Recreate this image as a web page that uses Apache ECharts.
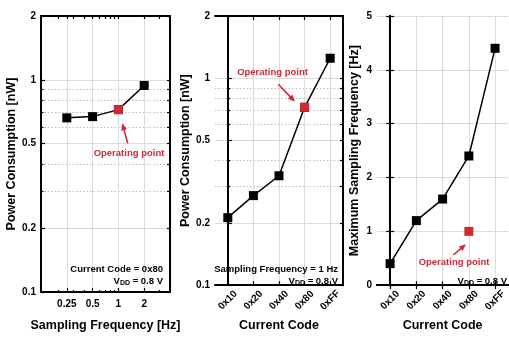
<!DOCTYPE html>
<html><head><meta charset="utf-8">
<script src="https://cdn.jsdelivr.net/npm/echarts@6/dist/echarts.min.js"></script>
<style>html,body{margin:0;padding:0;background:#fff}#c{width:509px;height:337px}</style>
</head><body><div id="c"></div>
<script>
// ---- data ----
const freqX = [0.25, 0.5, 1, 2];
const powerVsFreq = [0.662, 0.671, 0.724, 0.941];
const codes = ['0x10', '0x20', '0x40', '0x80', '0xFF'];
const powerVsCode = [0.212, 0.271, 0.338, 0.724, 1.25];
const maxFreqVsCode = [0.4, 1.2, 1.6, 2.4, 4.4];
const opFreq = 1, opPowerFreq = 0.724;
const opCode = '0x80', opPowerCode = 0.724, opMaxFreq = 1.0;
const xLogTicks = [0.25, 0.5, 1, 2];
const xLogMinor = [0.2, 0.3, 0.4, 0.6, 0.7, 0.8, 0.9, 3];
const yLogTicks = [0.1, 0.2, 0.5, 1, 2];
const yLogMinor = [0.3, 0.4, 0.6, 0.7, 0.8, 0.9];
const codeIdx = [0, 1, 2, 3, 4];

// ---- style ----
const FONT = '"Liberation Sans",Arial,sans-serif';
const RED = '#cc2a36';
const lab = {fontFamily: FONT, fontWeight: 'bold', fontSize: 10, color: '#000'};
const nameStyle = {fontFamily: FONT, fontWeight: 'bold', fontSize: 12.5, color: '#000'};
const AXL = {show: true, lineStyle: {color: '#000', width: 2}};
const TICKS = {color: '#000', width: 1.2};
const GRID_SOLID = {show: true, lineStyle: {color: '#dcdcdc', width: 1}};
const GRID_DOT = {show: true, lineStyle: {color: '#bdbdbd', width: 1, type: [1.5, 2]}};
const fmtNum = v => String(+(+v).toPrecision(3));

const grids = [
  {left: 41, top: 16, width: 129, height: 279},
  {left: 215, top: 16, width: 128, height: 279},
  {left: 377, top: 16, width: 138, height: 279}
];

const xAxis = [];
const yAxis = [];
function addX(o) { xAxis.push(o); return xAxis.length - 1; }
function addY(o) { yAxis.push(o); return yAxis.length - 1; }

// panel 1 x (log)
const xLogBase = {type: 'log', logBase: 2, min: 0.125, max: 4, gridIndex: 0};
const p1x = addX(Object.assign({}, xLogBase, {
  position: 'bottom', axisLine: AXL,
  axisTick: {show: true, inside: true, length: 4, customValues: xLogTicks, lineStyle: TICKS},
  axisLabel: {show: true, customValues: xLogTicks, formatter: fmtNum, margin: 7, ...lab},
  splitLine: GRID_SOLID,
  name: 'Sampling Frequency [Hz]', nameLocation: 'middle', nameGap: 27, nameTextStyle: nameStyle
}));
addX(Object.assign({}, xLogBase, {position: 'bottom', axisLine: {show: false},
  axisTick: {show: true, inside: true, length: 2, customValues: xLogMinor, lineStyle: TICKS},
  axisLabel: {show: false}, splitLine: {show: false}}));
addX(Object.assign({}, xLogBase, {position: 'top', axisLine: AXL,
  axisTick: {show: true, inside: true, length: 3, customValues: xLogTicks.concat(xLogMinor), lineStyle: TICKS},
  axisLabel: {show: false}, splitLine: {show: false}}));

// panels 2,3 x (code index)
function codeX(g) {
  const base = {type: 'value', min: -0.5, max: 4.5, gridIndex: g};
  const main = addX(Object.assign({}, base, {position: 'bottom', axisLine: AXL,
    axisTick: {show: true, inside: true, length: 4, customValues: codeIdx, lineStyle: TICKS},
    axisLabel: {show: true, customValues: codeIdx, formatter: v => codes[Math.round(v)], rotate: 45,
      align: 'center', verticalAlign: 'middle', margin: 15, ...lab},
    splitLine: GRID_SOLID,
    name: 'Current Code', nameLocation: 'middle', nameGap: 28, nameTextStyle: nameStyle}));
  addX(Object.assign({}, base, {position: 'top', axisLine: AXL,
    axisTick: {show: true, inside: true, length: 4, customValues: codeIdx, lineStyle: TICKS},
    axisLabel: {show: false}, splitLine: {show: false}}));
  return main;
}
const p2x = codeX(1);
const p3x = codeX(2);

// log y for panels 1,2
function logY(g, gap) {
  const base = {type: 'log', logBase: 1.1, min: 0.1, max: 2, gridIndex: g};
  const main = addY(Object.assign({}, base, {position: 'left', axisLine: AXL,
    axisTick: {show: true, inside: true, length: 4, customValues: yLogTicks, lineStyle: TICKS},
    axisLabel: {show: true, customValues: yLogTicks, formatter: fmtNum, margin: 5, ...lab},
    splitLine: GRID_SOLID,
    name: 'Power Consumption [nW]', nameLocation: 'middle', nameGap: gap, nameTextStyle: nameStyle}));
  addY(Object.assign({}, base, {position: 'left', axisLine: {show: false},
    axisTick: {show: true, inside: true, length: 2.5, customValues: yLogMinor, lineStyle: TICKS},
    axisLabel: {show: false}, splitLine: GRID_DOT}));
  addY(Object.assign({}, base, {position: 'right', axisLine: AXL,
    axisTick: {show: true, inside: true, length: 3, customValues: yLogTicks.concat(yLogMinor), lineStyle: TICKS},
    axisLabel: {show: false}, splitLine: {show: false}}));
  return main;
}
const p1y = logY(0, 21);
const p2y = logY(1, 23);
const p3y = addY({type: 'value', min: 0, max: 5, interval: 1, gridIndex: 2, position: 'left', axisLine: AXL,
  axisTick: {show: true, inside: true, length: 4, lineStyle: TICKS},
  axisLabel: {show: true, margin: 5, ...lab}, splitLine: GRID_SOLID,
  name: 'Maximum Sampling Frequency [Hz]', nameLocation: 'middle', nameGap: 16, nameTextStyle: nameStyle});
addY({type: 'value', min: 0, max: 5, interval: 1, gridIndex: 2, position: 'right', axisLine: AXL,
  axisTick: {show: true, inside: true, length: 4, lineStyle: TICKS}, axisLabel: {show: false}, splitLine: {show: false}});

const lineSeries = (xi, yi, data) => ({type: 'line', xAxisIndex: xi, yAxisIndex: yi, data: data,
  symbol: 'rect', symbolSize: 9, itemStyle: {color: '#000', opacity: 1}, lineStyle: {color: '#000', width: 1.5},
  animation: false, z: 3});
const opSeries = (xi, yi, pt) => ({type: 'scatter', xAxisIndex: xi, yAxisIndex: yi, data: [pt],
  symbol: 'rect', symbolSize: 9, itemStyle: {color: RED, opacity: 1}, animation: false, z: 5});

const series = [
  lineSeries(p1x, p1y, freqX.map((f, i) => [f, powerVsFreq[i]])),
  opSeries(p1x, p1y, [opFreq, opPowerFreq]),
  lineSeries(p2x, p2y, codes.map((c, i) => [i, powerVsCode[i]])),
  opSeries(p2x, p2y, [codes.indexOf(opCode), opPowerCode]),
  lineSeries(p3x, p3y, codes.map((c, i) => [i, maxFreqVsCode[i]])),
  opSeries(p3x, p3y, [codes.indexOf(opCode), opMaxFreq])
];

// ---- annotations ----
function arrow(x1, y1, x2, y2) {
  const dx = x2 - x1, dy = y2 - y1, L = Math.hypot(dx, dy), ux = dx / L, uy = dy / L;
  const hl = 7, hw = 3;
  const bx = x2 - ux * hl, by = y2 - uy * hl;
  return [
    {type: 'line', shape: {x1: x1, y1: y1, x2: bx + ux, y2: by + uy}, style: {stroke: RED, lineWidth: 1.6}, z: 10},
    {type: 'polygon', shape: {points: [[x2, y2], [bx - uy * hw, by + ux * hw], [bx + uy * hw, by - ux * hw]]}, style: {fill: RED}, z: 10}
  ];
}
const opText = (x, y) => ({type: 'text', x: x, y: y, z: 10, style: {text: 'Operating point', fill: RED,
  font: 'bold 9.5px ' + FONT, align: 'center', verticalAlign: 'middle'}});
const noteText = (x, y, t) => ({type: 'text', x: x, y: y, z: 10, style: {text: t, fill: '#000',
  font: 'bold 9.5px ' + FONT, align: 'right', verticalAlign: 'middle'}});
const vddText = (x, y) => ({type: 'text', x: x, y: y, z: 10, style: {text: '{v|V}{d|DD}{v| = 0.8 V}',
  align: 'right', verticalAlign: 'middle',
  rich: {v: {font: 'bold 9.5px ' + FONT, fill: '#000'}, d: {font: 'bold 7px ' + FONT, fill: '#000', verticalAlign: 'bottom', padding: [2, 0, 0, 0]}}}});

const graphic = [
  opText(129, 153), ...arrow(127.7, 143.3, 122.3, 123.3),
  opText(272.5, 72.7), ...arrow(278.3, 84.3, 295, 101.7),
  opText(454, 262.7), ...arrow(453.3, 255, 466, 244.3),
  noteText(163, 269.3, 'Current Code = 0x80'), vddText(163, 281.7),
  noteText(338, 269.3, 'Sampling Frequency = 1 Hz'), vddText(338, 281.7),
  vddText(507, 281.7)
];

const chart = echarts.init(document.getElementById('c'), null, {renderer: 'canvas'});
chart.setOption({animation: false, backgroundColor: '#fff', grid: grids, xAxis: xAxis, yAxis: yAxis, series: series, graphic: graphic});
</script></body></html>
